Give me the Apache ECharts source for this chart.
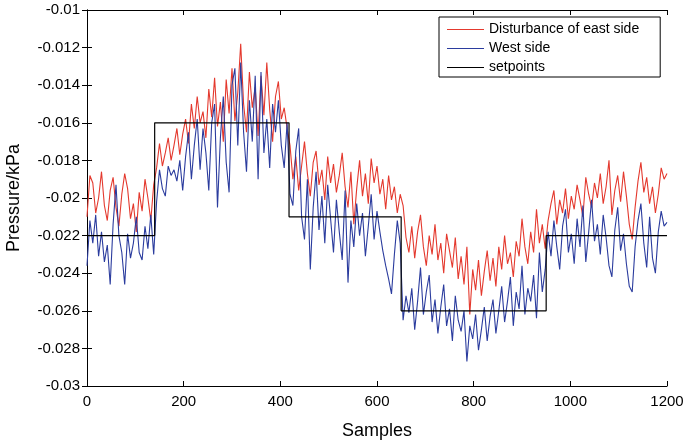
<!DOCTYPE html>
<html>
<head>
<meta charset="utf-8">
<script src="https://cdn.jsdelivr.net/npm/echarts@6/dist/echarts.min.js"></script>
<style>
html,body{margin:0;padding:0;background:#fff;}
#chart{width:684px;height:443px;}
</style>
</head>
<body>
<div id="chart"></div>
<script>
var sampleStep = 6;

// Disturbance of east side (red)
var eastSide = [
-0.0210,-0.0188,-0.0192,-0.0208,-0.0200,-0.0186,-0.0204,-0.0212,-0.0196,-0.0189,
-0.0205,-0.0215,-0.0198,-0.0187,-0.0195,-0.0211,-0.0203,-0.0218,-0.0197,-0.0207,
-0.0190,-0.0200,-0.0212,-0.0193,-0.0184,-0.0171,-0.0183,-0.0176,-0.0168,-0.0180,
-0.0172,-0.0163,-0.0177,-0.0166,-0.0158,-0.0171,-0.0150,-0.0163,-0.0146,-0.0160,
-0.0154,-0.0168,-0.0142,-0.0157,-0.0136,-0.0162,-0.0149,-0.0170,-0.0137,-0.0155,
-0.0131,-0.0159,-0.0144,-0.0118,-0.0150,-0.0165,-0.0133,-0.0152,-0.0141,-0.0167,
-0.0135,-0.0156,-0.0128,-0.0153,-0.0170,-0.0146,-0.0138,-0.0158,-0.0152,-0.0163,
-0.0172,-0.0190,-0.0178,-0.0196,-0.0183,-0.0170,-0.0187,-0.0199,-0.0181,-0.0175,
-0.0193,-0.0185,-0.0201,-0.0178,-0.0192,-0.0182,-0.0197,-0.0188,-0.0176,-0.0194,
-0.0205,-0.0186,-0.0214,-0.0195,-0.0180,-0.0199,-0.0187,-0.0203,-0.0179,-0.0192,
-0.0183,-0.0198,-0.0190,-0.0206,-0.0188,-0.0201,-0.0194,-0.0208,-0.0198,-0.0204,
-0.0221,-0.0229,-0.0215,-0.0232,-0.0218,-0.0209,-0.0226,-0.0236,-0.0220,-0.0230,
-0.0214,-0.0233,-0.0224,-0.0240,-0.0219,-0.0228,-0.0237,-0.0221,-0.0243,-0.0231,
-0.0246,-0.0226,-0.0262,-0.0238,-0.0249,-0.0233,-0.0252,-0.0239,-0.0228,-0.0244,
-0.0232,-0.0247,-0.0226,-0.0238,-0.0220,-0.0235,-0.0229,-0.0242,-0.0223,-0.0231,
-0.0211,-0.0226,-0.0235,-0.0218,-0.0229,-0.0206,-0.0224,-0.0214,-0.0227,-0.0212,
-0.0203,-0.0196,-0.0214,-0.0201,-0.0208,-0.0195,-0.0211,-0.0199,-0.0206,-0.0193,
-0.0201,-0.0210,-0.0189,-0.0198,-0.0205,-0.0192,-0.0200,-0.0187,-0.0203,-0.0194,
-0.0180,-0.0209,-0.0196,-0.0188,-0.0202,-0.0186,-0.0199,-0.0214,-0.0222,-0.0205,
-0.0191,-0.0181,-0.0197,-0.0189,-0.0203,-0.0194,-0.0208,-0.0198,-0.0184,-0.0190,
-0.0187
];

// West side (blue)
var westSide = [
-0.0236,-0.0212,-0.0224,-0.0209,-0.0231,-0.0218,-0.0234,-0.0225,-0.0246,-0.0214,
-0.0193,-0.0220,-0.0229,-0.0246,-0.0219,-0.0232,-0.0224,-0.0210,-0.0229,-0.0233,
-0.0215,-0.0227,-0.0209,-0.0230,-0.0202,-0.0185,-0.0195,-0.0199,-0.0183,-0.0188,
-0.0185,-0.0191,-0.0180,-0.0196,-0.0178,-0.0165,-0.0190,-0.0172,-0.0158,-0.0185,
-0.0163,-0.0176,-0.0196,-0.0160,-0.0150,-0.0205,-0.0168,-0.0146,-0.0181,-0.0197,
-0.0140,-0.0131,-0.0172,-0.0128,-0.0165,-0.0186,-0.0148,-0.0170,-0.0135,-0.0190,
-0.0133,-0.0176,-0.0158,-0.0184,-0.0150,-0.0165,-0.0148,-0.0172,-0.0184,-0.0160,
-0.0198,-0.0204,-0.0175,-0.0163,-0.0210,-0.0222,-0.0190,-0.0238,-0.0205,-0.0186,
-0.0217,-0.0199,-0.0224,-0.0193,-0.0211,-0.0229,-0.0201,-0.0218,-0.0233,-0.0196,
-0.0245,-0.0212,-0.0226,-0.0203,-0.0220,-0.0208,-0.0231,-0.0215,-0.0198,-0.0222,
-0.0207,-0.0218,-0.0228,-0.0236,-0.0243,-0.0251,-0.0230,-0.0212,-0.0224,-0.0265,
-0.0252,-0.0261,-0.0248,-0.0270,-0.0255,-0.0237,-0.0262,-0.0250,-0.0241,-0.0266,
-0.0254,-0.0272,-0.0258,-0.0246,-0.0268,-0.0259,-0.0276,-0.0252,-0.0265,-0.0271,
-0.0260,-0.0287,-0.0268,-0.0275,-0.0262,-0.0281,-0.0270,-0.0258,-0.0276,-0.0263,
-0.0254,-0.0272,-0.0260,-0.0247,-0.0266,-0.0255,-0.0242,-0.0268,-0.0250,-0.0259,
-0.0236,-0.0262,-0.0248,-0.0255,-0.0241,-0.0264,-0.0229,-0.0250,-0.0238,-0.0218,
-0.0231,-0.0212,-0.0226,-0.0238,-0.0215,-0.0206,-0.0229,-0.0219,-0.0235,-0.0211,
-0.0226,-0.0204,-0.0234,-0.0218,-0.0201,-0.0223,-0.0214,-0.0230,-0.0209,-0.0221,
-0.0236,-0.0242,-0.0217,-0.0205,-0.0228,-0.0219,-0.0235,-0.0247,-0.0250,-0.0226,
-0.0212,-0.0203,-0.0224,-0.0237,-0.0210,-0.0232,-0.0240,-0.0218,-0.0207,-0.0215,
-0.0213
];

// Setpoints (step changes)
var setpointSamples = [0, 140, 418, 650, 950, 1200];
var setpointValues = [-0.022, -0.016, -0.021, -0.026, -0.022, -0.022];

var seriesNames = ['Disturbance of east side', 'West side', 'setpoints'];
var xTicks = [0, 200, 400, 600, 800, 1000, 1200];
var yTicks = [-0.03, -0.028, -0.026, -0.024, -0.022, -0.02, -0.018, -0.016, -0.014, -0.012, -0.01];

function toPairs(arr) {
  return arr.map(function (v, i) { return [i * sampleStep, v]; });
}
var setPairs = setpointSamples.map(function (s, i) { return [s, setpointValues[i]]; });

var font = 'Liberation Sans, Arial, sans-serif';
var chart = echarts.init(document.getElementById('chart'), null, {renderer: 'canvas'});

var xBase = {
  type: 'value', min: xTicks[0], max: xTicks[xTicks.length - 1], interval: 200,
  axisLine: {show: true, lineStyle: {color: '#000', width: 1}},
  axisTick: {show: true, inside: true, length: 5, lineStyle: {color: '#000'}},
  splitLine: {show: false}
};
var yBase = {
  type: 'value', min: yTicks[0], max: yTicks[yTicks.length - 1], interval: 0.002,
  axisLine: {show: true, lineStyle: {color: '#000', width: 1}},
  axisTick: {show: true, inside: true, length: 5, lineStyle: {color: '#000'}},
  splitLine: {show: false}
};

chart.setOption({
  animation: false,
  backgroundColor: '#fff',
  grid: {left: 87, right: 17, top: 10, bottom: 57, containLabel: false, outerBoundsMode: 'none'},
  legend: {
    data: seriesNames,
    orient: 'vertical',
    left: 439, top: 17,
    icon: 'rect',
    itemWidth: 37, itemHeight: 1, itemGap: 4,
    padding: [5, 21, 2, 8],
    borderColor: '#000', borderWidth: 1,
    backgroundColor: '#fff',
    textStyle: {fontFamily: font, fontSize: 14, color: '#000', lineHeight: 15}
  },
  xAxis: [
    Object.assign({}, xBase, {
      position: 'bottom',
      name: 'Samples', nameLocation: 'middle', nameGap: 36,
      nameTextStyle: {fontFamily: font, fontSize: 18, color: '#000'},
      axisLabel: {show: true, margin: 8, fontFamily: font, fontSize: 15, color: '#000',
        formatter: function (v) { return String(v); }}
    }),
    Object.assign({}, xBase, {position: 'top', axisLabel: {show: false}})
  ],
  yAxis: [
    Object.assign({}, yBase, {
      position: 'left',
      name: 'Pressure/kPa', nameLocation: 'middle', nameGap: 64,
      nameTextStyle: {fontFamily: font, fontSize: 18, color: '#000'},
      axisLabel: {
        show: true, margin: 7, fontFamily: font, fontSize: 15, color: '#000',
        formatter: function (v) { return String(+v.toFixed(3)); }
      }
    }),
    Object.assign({}, yBase, {position: 'right', axisLabel: {show: false}})
  ],
  series: [
    {
      name: seriesNames[0], type: 'line', data: toPairs(eastSide),
      symbol: 'none', showSymbol: false,
      lineStyle: {color: '#e4392e', width: 1.1}, itemStyle: {color: '#e4392e'}
    },
    {
      name: seriesNames[1], type: 'line', data: toPairs(westSide),
      symbol: 'none', showSymbol: false,
      lineStyle: {color: '#2b3c9e', width: 1.1}, itemStyle: {color: '#2b3c9e'}
    },
    {
      name: seriesNames[2], type: 'line', data: setPairs, step: 'end',
      symbol: 'none', showSymbol: false,
      lineStyle: {color: '#000', width: 1.2}, itemStyle: {color: '#000'}
    }
  ]
});
</script>
</body>
</html>
